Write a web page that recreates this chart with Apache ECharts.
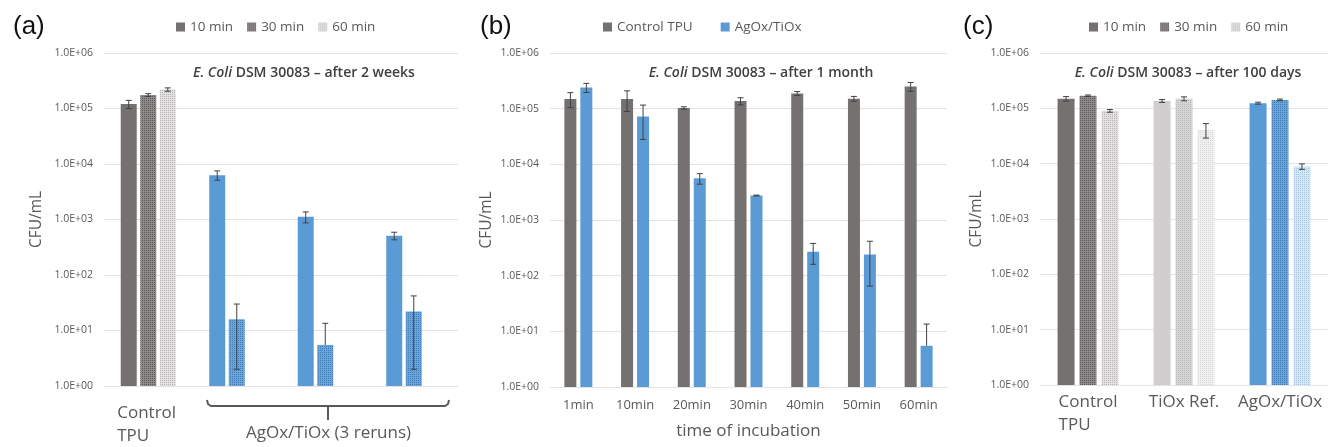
<!DOCTYPE html>
<html>
<head>
<meta charset="utf-8">
<script src="https://cdn.jsdelivr.net/npm/echarts@6/dist/echarts.min.js"></script>
<style>
  html, body { margin: 0; padding: 0; background: #fff; }
  #main { width: 1328px; height: 447px; }
</style>
</head>
<body>
<div id="main"></div>
<script>
// panel (a) - after 2 weeks
const aCategories = ['Control TPU', 'AgOx/TiOx run 1', 'AgOx/TiOx run 2', 'AgOx/TiOx run 3'];
const aTickLabels = ['Control\nTPU', '', '', ''];
const a10 = [120000, 6300, 1120, 510];
const a10Err = [20000, 1200, 250, 80];
const a30 = [175000, 16, 5.5, 22];
const a30Err = [10000, 14, 8, 20];
const a60 = [220000, null, null, null];
const a60Err = [15000, null, null, null];

// panel (b) - after 1 month
const bCategories = ['1min', '10min', '20min', '30min', '40min', '50min', '60min'];
const bControl = [149000, 149000, 103000, 137000, 188000, 151000, 250000];
const bControlErr = [45000, 60000, 5000, 20000, 15000, 15000, 45000];
const bAgox = [240000, 72000, 5600, 2750, 270, 240, 5.5];
const bAgoxErr = [45000, 44000, 1200, 50, 110, 175, 8];

// panel (c) - after 100 days
const cCategories = ['Control\nTPU', 'TiOx Ref.', 'AgOx/TiOx'];
const c10 = [149000, 136000, 124000];
const c10Err = [14000, 8000, 5000];
const c30 = [169000, 149000, 142000];
const c30Err = [5000, 12000, 5000];
const c60 = [90000, 41000, 8900];
const c60Err = [5000, 12000, 1000];

const FONT = 'Open Sans';
const GREY = '#595959';

// dotted fill like the excel pattern fills
function dots(bg, fg) {
  const c = document.createElement('canvas');
  c.width = 4; c.height = 4;
  const ctx = c.getContext('2d');
  ctx.fillStyle = bg; ctx.fillRect(0, 0, 4, 4);
  ctx.fillStyle = fg;
  ctx.fillRect(0, 0, 1, 1); ctx.fillRect(2, 2, 1, 1);
  ctx.fillRect(2, 0, 1, 1); ctx.fillRect(0, 2, 1, 1);
  return { image: c, repeat: 'repeat' };
}

const ctrl = '#767171';
const ctrl30 = dots('#8E8A8A', '#5E5A5A');
const ctrl60 = dots('#E2E0E0', '#B8B5B5');
const agox = '#5B9BD5';
const agox30 = dots('#6BA5DA', '#3F7DB8');
const agox60 = dots('#D8E7F5', '#A3C5E5');
const tiox = '#D0CECE';
const tiox30 = dots('#D8D6D6', '#B9B6B6');
const tiox60 = dots('#F1F0F0', '#DAD8D8');

function logLabel(v) {
  const e = Math.round(Math.log10(v));
  return '1.0E+' + String(e).padStart(2, '0');
}

function yAxis(idx, gap) {
  return {
    type: 'log', logBase: 10, min: 1, max: 1000000, gridIndex: idx,
    name: 'CFU/mL', nameLocation: 'middle', nameGap: gap,
    nameTextStyle: { fontFamily: FONT, fontSize: 15.5, color: GREY },
    axisLine: { show: false }, axisTick: { show: false },
    axisLabel: { formatter: logLabel, fontFamily: FONT, fontSize: 10.5, color: GREY, margin: 11 },
    splitLine: { lineStyle: { color: '#E3E3E3' } },
    minorSplitLine: { show: false }
  };
}

function bars(name, grid, vals, colors, base, bw, gap) {
  return {
    name: name, type: 'bar', xAxisIndex: grid, yAxisIndex: grid,
    barWidth: bw, barGap: gap,
    itemStyle: { color: base },
    data: vals.map((v, i) => v == null ? '-' : { value: v, itemStyle: { color: colors[i] } })
  };
}

function errBars(grid, vals, errs, idx, n, bw, gapRatio) {
  const data = [];
  vals.forEach((v, i) => { if (v != null) data.push([i, v, v - errs[i], v + errs[i]]); });
  return {
    type: 'custom', xAxisIndex: grid, yAxisIndex: grid, z: 10, silent: true,
    encode: { x: 0, y: 1 }, data: data,
    renderItem(params, api) {
      const cat = api.value(0), v = api.value(1), lo = api.value(2), hi = api.value(3);
      const off = (idx - (n - 1) / 2) * bw * (1 + gapRatio);
      const p = api.coord([cat, v]);
      const x = p[0] + off;
      const yHi = api.coord([cat, hi])[1];
      const st = { stroke: '#404040', lineWidth: 1 };
      const kids = [
        { type: 'line', shape: { x1: x, y1: p[1], x2: x, y2: yHi }, style: st },
        { type: 'line', shape: { x1: x - 3, y1: yHi, x2: x + 3, y2: yHi }, style: st }
      ];
      if (lo > 0) {
        const yLo = api.coord([cat, lo])[1];
        kids.push({ type: 'line', shape: { x1: x, y1: p[1], x2: x, y2: yLo }, style: st });
        kids.push({ type: 'line', shape: { x1: x - 3, y1: yLo, x2: x + 3, y2: yLo }, style: st });
      }
      return { type: 'group', children: kids };
    }
  };
}

function leftLines(v) {
  return v.split('\n').map(s => '{l|' + s + '}').join('\n');
}

function subTitle(text, x) {
  return {
    text: text, left: x, top: 61, textAlign: 'center',
    textStyle: {
      fontFamily: FONT, fontSize: 14, fontWeight: 600, color: '#404040',
      rich: { i: { fontFamily: FONT, fontSize: 14, fontWeight: 600, fontStyle: 'italic', color: '#404040' } }
    }
  };
}
function panelTag(text, x) {
  return { text: text, left: x, top: 9, textStyle: { fontFamily: 'Liberation Sans', fontSize: 26, fontWeight: 'normal', color: '#111' } };
}
function legend(names, x, gap) {
  return {
    data: names, left: x, top: 15, itemWidth: 9, itemHeight: 9, itemGap: gap, icon: 'rect',
    selectedMode: false,
    textStyle: { fontFamily: FONT, fontSize: 13.5, color: GREY }
  };
}

const chart = echarts.init(document.getElementById('main'));
const catAxis = {
  type: 'category', axisTick: { show: false },
  axisLine: { lineStyle: { color: '#E3E3E3' } }
};

const option = {
  animation: false,
  title: [
    panelTag('(a)', 8), panelTag('(b)', 475), panelTag('(c)', 958),
    subTitle('{i|E. Coli} DSM 30083 – after 2 weeks', 299),
    subTitle('{i|E. Coli} DSM 30083 – after 1 month', 756),
    subTitle('{i|E. Coli} DSM 30083 – after 100 days', 1183)
  ],
  legend: [
    legend(['10 min', '30 min', '60 min'], 171, 14),
    legend(['Control TPU', 'AgOx/TiOx'], 598, 28),
    legend(['10 min', '30 min', '60 min'], 1084, 14)
  ],
  grid: [
    { left: 104, width: 354, top: 53, bottom: 61 },
    { left: 550, width: 397, top: 53, bottom: 60 },
    { left: 1040, width: 294, top: 53, bottom: 62 }
  ],
  xAxis: [
    Object.assign({}, catAxis, {
      gridIndex: 0, data: aCategories,
      axisLabel: {
        interval: 0, margin: 16, formatter: (v, i) => leftLines(aTickLabels[i]),
        rich: { l: { width: 62, align: 'left', fontFamily: FONT, fontSize: 17, lineHeight: 23, color: GREY } }
      }
    }),
    Object.assign({}, catAxis, {
      gridIndex: 1, data: bCategories,
      name: 'time of incubation', nameLocation: 'middle', nameGap: 36,
      nameTextStyle: { fontFamily: FONT, fontSize: 17, color: GREY },
      axisLabel: { interval: 0, margin: 12, fontFamily: FONT, fontSize: 13, color: GREY }
    }),
    Object.assign({}, catAxis, {
      gridIndex: 2, data: cCategories,
      axisLabel: {
        interval: 0, margin: 6, formatter: v => leftLines(v),
        rich: { l: { align: 'left', fontFamily: FONT, fontSize: 17, lineHeight: 23, color: GREY } }
      }
    })
  ],
  yAxis: [yAxis(0, 59), yAxis(1, 55), yAxis(2, 55)],
  series: [
    bars('10 min', 0, a10, [ctrl, agox, agox, agox], ctrl, 16, '22%'),
    bars('30 min', 0, a30, [ctrl30, agox30, agox30, agox30], ctrl30, 16, '22%'),
    bars('60 min', 0, a60, [ctrl60, ctrl60, ctrl60, ctrl60], ctrl60, 16, '22%'),
    errBars(0, a10, a10Err, 0, 3, 16, 0.22),
    errBars(0, a30, a30Err, 1, 3, 16, 0.22),
    errBars(0, a60, a60Err, 2, 3, 16, 0.22),

    bars('Control TPU', 1, bControl, bControl.map(() => ctrl), ctrl, 12, '33%'),
    bars('AgOx/TiOx', 1, bAgox, bAgox.map(() => agox), agox, 12, '33%'),
    errBars(1, bControl, bControlErr, 0, 2, 12, 0.33),
    errBars(1, bAgox, bAgoxErr, 1, 2, 12, 0.33),

    bars('10 min', 2, c10, [ctrl, tiox, agox], ctrl, 17, '29%'),
    bars('30 min', 2, c30, [ctrl30, tiox30, agox30], ctrl30, 17, '29%'),
    bars('60 min', 2, c60, [ctrl60, tiox60, agox60], ctrl60, 17, '29%'),
    errBars(2, c10, c10Err, 0, 3, 17, 0.29),
    errBars(2, c30, c30Err, 1, 3, 17, 0.29),
    errBars(2, c60, c60Err, 2, 3, 17, 0.29)
  ],
  graphic: [
    // bracket under the three AgOx/TiOx reruns
    {
      type: 'polyline', silent: true,
      shape: { points: [[207, 400], [208, 404], [211, 406], [445, 406], [448, 404], [449, 400]] },
      style: { stroke: '#595959', lineWidth: 2, fill: null }
    },
    {
      type: 'line', silent: true,
      shape: { x1: 328, y1: 406, x2: 328, y2: 420 },
      style: { stroke: '#595959', lineWidth: 2 }
    },
    {
      type: 'text', left: 246, top: 425, silent: true,
      style: { text: 'AgOx/TiOx (3 reruns)', fontFamily: FONT, fontSize: 17, fill: GREY }
    }
  ]
};
chart.setOption(option);
</script>
</body>
</html>
